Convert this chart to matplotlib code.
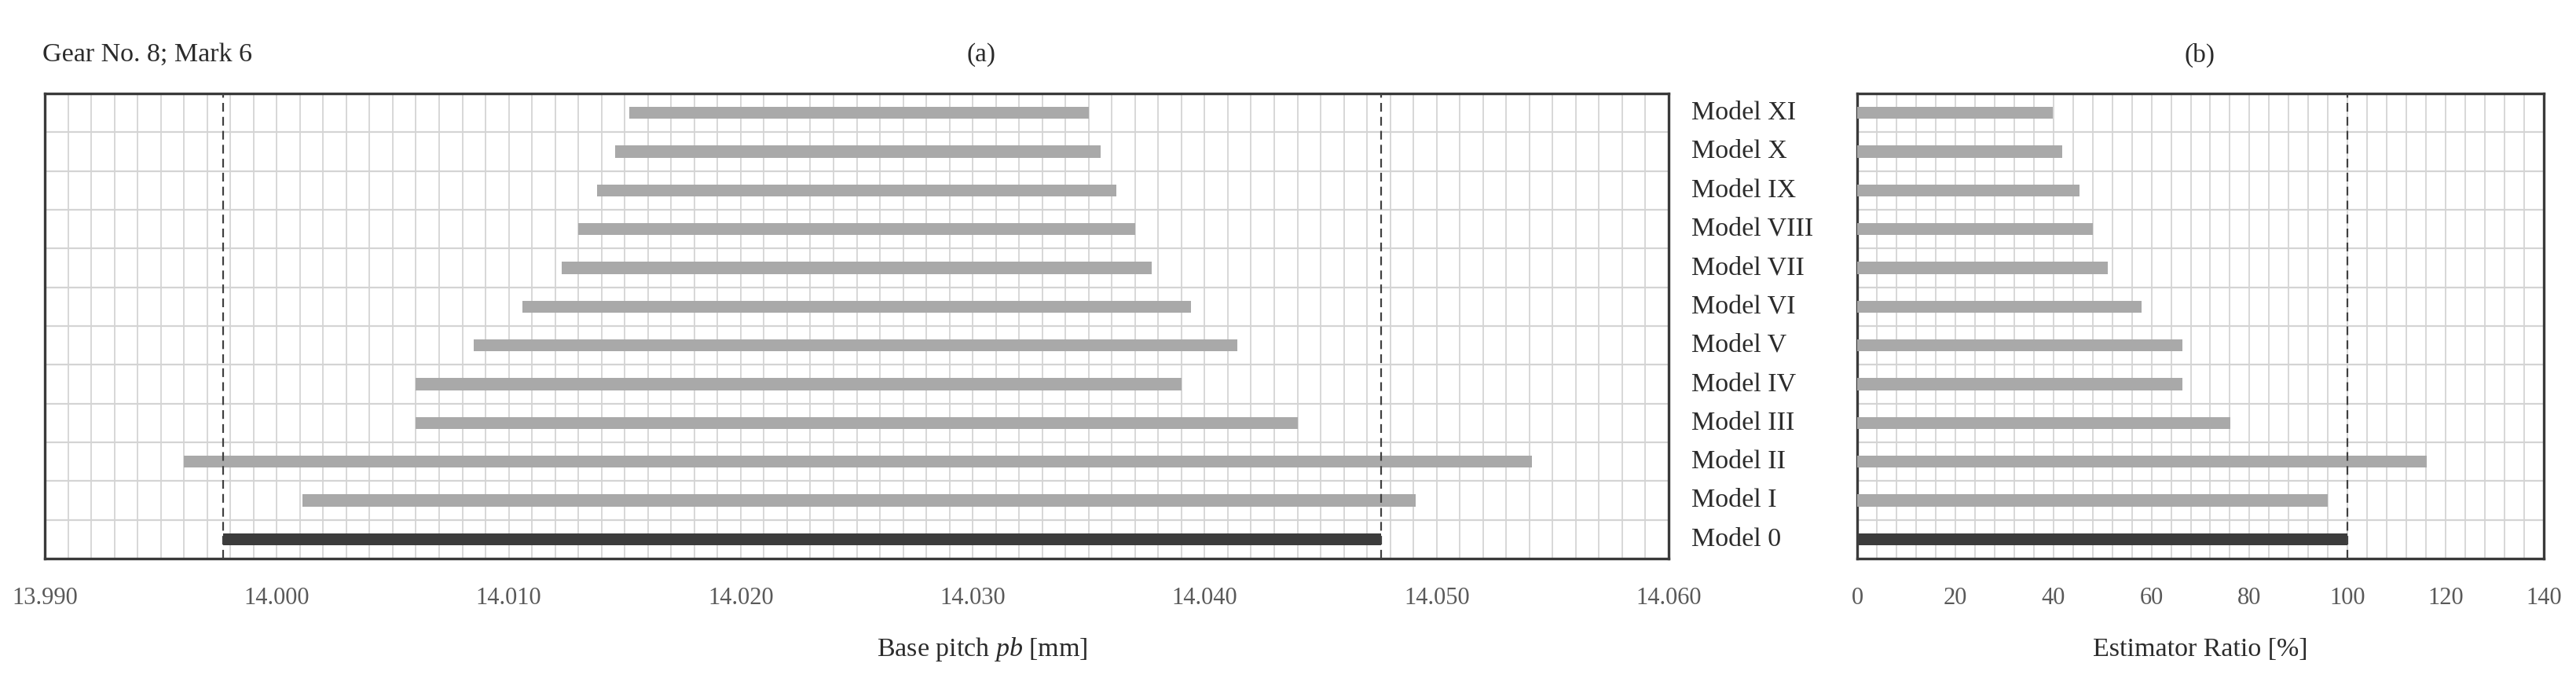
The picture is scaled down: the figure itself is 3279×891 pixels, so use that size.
import matplotlib
matplotlib.use("Agg")
import matplotlib.pyplot as plt
import matplotlib.transforms as mtransforms
from matplotlib.ticker import MultipleLocator, FixedLocator
import numpy as np

# ---------------- data ----------------
models = ["Model 0", "Model I", "Model II", "Model III", "Model IV", "Model V",
          "Model VI", "Model VII", "Model VIII", "Model IX", "Model X", "Model XI"]
pitch_low = [13.9977, 14.0011, 13.9960, 14.0060, 14.0060, 14.0085,
             14.0106, 14.0123, 14.0130, 14.0138, 14.0146, 14.0152]
pitch_high = [14.0476, 14.0491, 14.0541, 14.0440, 14.0390, 14.0414,
              14.0394, 14.0377, 14.0370, 14.0362, 14.0355, 14.0350]
ratio = [100.0, 95.9, 116.2, 76.1, 66.3, 66.3, 58.0, 51.1, 48.1, 45.3, 41.8, 39.9]
ref_low = 13.9977
ref_high = 14.0476
ref_ratio = 100
x_a_ticks = [13.990, 14.000, 14.010, 14.020, 14.030, 14.040, 14.050, 14.060]
x_b_ticks = [0, 20, 40, 60, 80, 100, 120, 140]

# ---------------- style ----------------
plt.rcParams['font.family'] = ['Liberation Serif', 'DejaVu Serif']
plt.rcParams['mathtext.fontset'] = 'custom'
plt.rcParams['mathtext.rm'] = 'Liberation Serif'
plt.rcParams['mathtext.it'] = 'Liberation Serif:italic'

W, H = 3280, 891
fig = plt.figure(figsize=(W / 100, H / 100), dpi=100)

def ax_rect(l, r, t, b):
    return [l / W, 1 - b / H, (r - l) / W, (b - t) / H]

ax_a = fig.add_axes(ax_rect(57, 2124, 119, 711))
ax_b = fig.add_axes(ax_rect(2364, 3238, 119, 711))

light = '#a9a9a9'
dark = '#3c3c3c'
grid_c = '#d4d4d4'
tick_c = '#595959'
text_c = '#2b2b2b'
border_c = '#3a3a3a'

y = np.arange(len(models))
colors = [dark] + [light] * (len(models) - 1)
bh = 0.31

# panel a: floating range bars
widths = [h - l for l, h in zip(pitch_low, pitch_high)]
ax_a.barh(y, widths, left=pitch_low, height=bh, color=colors, zorder=3)
ax_a.axvline(ref_low, color='#404040', ls=(0, (5, 3)), lw=1.6, zorder=4)
ax_a.axvline(ref_high, color='#404040', ls=(0, (5, 3)), lw=1.6, zorder=4)
ax_a.set_xlim(13.990, 14.060)
ax_a.set_xticks(x_a_ticks)
ax_a.set_xticklabels([f"{v:.3f}" for v in x_a_ticks])
ax_a.xaxis.set_minor_locator(MultipleLocator(0.001))

# panel b: ratio bars
ax_b.barh(y, ratio, height=bh, color=colors, zorder=3)
ax_b.axvline(ref_ratio, color='#404040', ls=(0, (5, 3)), lw=1.6, zorder=4)
ax_b.set_xlim(0, 140)
ax_b.set_xticks(x_b_ticks)
ax_b.set_xticklabels([str(v) for v in x_b_ticks])
ax_b.xaxis.set_minor_locator(MultipleLocator(4))

for ax in (ax_a, ax_b):
    ax.set_ylim(-0.5, len(models) - 0.5)
    ax.set_yticks([])
    ax.yaxis.set_minor_locator(FixedLocator(np.arange(-0.5, len(models), 1.0)))
    ax.grid(True, which='both', axis='x', color=grid_c, lw=1.3, zorder=0)
    ax.grid(True, which='minor', axis='y', color=grid_c, lw=1.6, zorder=0)
    ax.tick_params(axis='both', which='both', length=0)
    ax.tick_params(axis='x', labelsize=22, labelcolor=tick_c, pad=26)
    for s in ax.spines.values():
        s.set_color(border_c)
        s.set_linewidth(2.4)
    ax.set_axisbelow(True)

# category labels between panels
trans = mtransforms.blended_transform_factory(fig.transFigure, ax_b.transData)
for yi, name in zip(y, models):
    fig.text(2153 / W, yi, name, transform=trans, ha='left', va='center',
             fontsize=24.5, color=text_c)

# titles and axis labels
fig.text(54 / W, 1 - 70 / H, "Gear No. 8; Mark 6", ha='left', va='center',
         fontsize=24.5, color=text_c)
fig.text(1249 / W, 1 - 70 / H, "(a)", ha='center', va='center', fontsize=24, color=text_c)
fig.text(2800 / W, 1 - 70 / H, "(b)", ha='center', va='center', fontsize=24, color=text_c)
fig.text(1250 / W, 1 - 827 / H, "Base pitch $pb$ [mm]", ha='center', va='center',
         fontsize=24.5, color=text_c)
fig.text(2801 / W, 1 - 827 / H, "Estimator Ratio [%]", ha='center', va='center',
         fontsize=24.5, color=text_c)

fig.savefig("out.png", dpi=100, facecolor='white')
